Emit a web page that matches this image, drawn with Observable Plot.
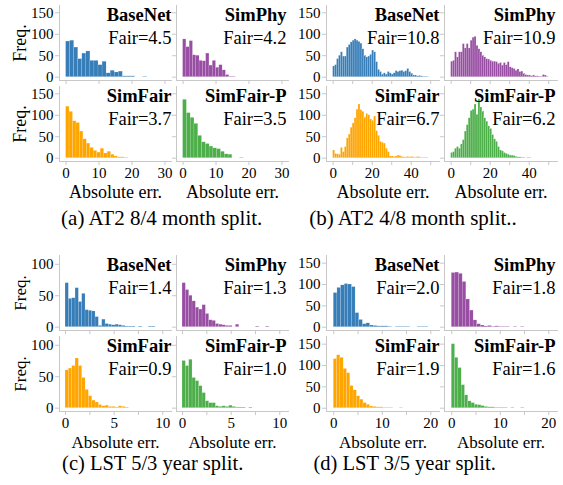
<!DOCTYPE html>
<html>
<head>
<meta charset="utf-8">
<script src="https://cdn.jsdelivr.net/npm/d3@7"></script>
<script src="https://cdn.jsdelivr.net/npm/@observablehq/plot@0.6"></script>
<style>
  html, body { margin: 0; padding: 0; background: #fff; }
  #root { position: relative; width: 563px; height: 485px; overflow: hidden;
          font-family: "Liberation Serif", "Times New Roman", serif; color: #000; }
  .pnl { position: absolute; }
  .lbl { position: absolute; white-space: nowrap; transform: translate(-50%, -50%); line-height: 1; }
  .rot { transform: translate(-50%, -50%) rotate(-90deg); }
</style>
</head>
<body>
<div id="root"></div>
<script>
// ---------------- data ----------------
const methods = ["BaseNet", "SimPhy", "SimFair", "SimFair-P"];
const colors = ["#377eb8", "#984ea3", "#ffa500", "#4daf4a"];
const captions = ["(a) AT2 8/4 month split.", "(b) AT2 4/8 month split..",
                  "(c) LST 5/3 year split.", "(d) LST 3/5 year split."];
const yLabelText = "Freq.";
const xLabelText = "Absolute err.";

// (a) AT2 8/4 month split
const fairA = [4.5, 4.2, 3.7, 3.5];
const binWidthA = [1.23, 1.0, 1.05, 1.15];
const aBaseNet = [83, 85, 69, 42, 55, 60, 38, 38, 28, 36, 9, 15, 11, 13, 2, 2, 2, 0, 0, 1];
const aSimPhy = [88, 70, 84, 51, 50, 38, 37, 55, 27, 38, 22, 28, 16, 5, 1, 1];
const aSimFair = [120, 108, 86, 82, 62, 44, 34, 24, 17, 13, 22, 11, 15, 8, 4, 2, 2, 1];
const aSimFairP = [136, 105, 94, 80, 52, 37, 33, 27, 23, 21, 15, 9, 8, 0, 0, 1];
const xTicksA = [0, 10, 20, 30], xLabelsA = [0, 10, 20, 30];
const yTicksA = [0, 50, 100, 150], yLabelsA = [0, 50, 100, 150];

// (b) AT2 4/8 month split
const fairB = [10.8, 10.9, 6.7, 6.2];
const binWidthB = [1.0, 1.0, 1.0, 1.0];
const bBaseNet = [25, 28, 42, 50, 58, 48, 48, 69, 75, 81, 85, 88, 85, 82, 78, 65, 50, 46, 48, 52, 62, 58, 35, 17, 12, 6, 9, 6, 12, 9, 6, 9, 14, 12, 14, 15, 12, 14, 19, 12, 8, 4, 4, 2, 3, 2, 1, 1, 1];
const bSimPhy = [36, 38, 58, 46, 58, 58, 77, 67, 77, 67, 85, 92, 94, 73, 65, 58, 50, 46, 42, 41, 38, 36, 36, 35, 31, 33, 27, 33, 28, 35, 23, 21, 19, 15, 18, 12, 13, 8, 5, 4, 4, 2, 4, 2, 2, 1, 1, 5, 4, 1];
const bSimFair = [18, 10, 9, 8, 24, 14, 26, 46, 55, 71, 81, 93, 113, 125, 112, 108, 95, 103, 100, 90, 87, 97, 63, 52, 38, 36, 34, 22, 14, 4, 4, 3, 4, 6, 5, 3, 2, 2, 3, 2, 3, 2, 1, 3, 2, 1, 1, 1, 1];
const bSimFairP = [12, 14, 22, 26, 22, 32, 42, 62, 77, 93, 110, 113, 125, 101, 137, 118, 109, 93, 85, 74, 68, 54, 44, 38, 26, 18, 16, 12, 10, 8, 6, 6, 5, 3, 2, 2, 1, 1, 0, 1, 1];
const xTicksB = [0, 10, 20, 30, 40, 50], xLabelsB = [0, 20, 40];
const yTicksB = [0, 50, 100, 150], yLabelsB = [0, 50, 100, 150];

// (c) LST 5/3 year split
const fairC = [1.4, 1.3, 0.9, 1.0];
const binWidthC = [0.343, 0.343, 0.343, 0.343];
const cBaseNet = [70, 45, 46, 62, 40, 53, 27, 26, 25, 16, 2, 12, 5, 4, 3, 4, 3, 2, 1, 1, 1, 0, 1, 0, 0, 1, 1];
const cSimPhy = [70, 59, 50, 41, 31, 28, 35, 21, 11, 10, 5, 4, 3, 2, 2, 0, 4, 0, 0, 0, 0, 0, 1, 0, 0, 1];
const cSimFair = [60, 63, 67, 79, 67, 48, 29, 19, 12, 9, 5, 3, 4, 2, 2, 1, 3, 2, 1];
const cSimFairP = [75, 67, 77, 48, 43, 35, 24, 11, 8, 8, 3, 2, 3, 2, 4, 2, 1, 1, 1, 0, 1];
const xTicksC = [0, 2.5, 5, 7.5, 10], xLabelsC = [0, 5, 10];
const yTicksC = [0, 50, 100], yLabelsC = [0, 50, 100];

// (d) LST 3/5 year split
const fairD = [2.0, 1.8, 1.9, 1.6];
const binWidthD = [0.75, 0.75, 0.68, 0.68];
const dBaseNet = [80, 92, 98, 101, 100, 94, 33, 17, 7, 9, 4, 3, 2, 2, 2, 1, 0, 1, 1, 1, 1, 0, 0, 1, 1, 1];
const dSimPhy = [127, 128, 125, 106, 65, 39, 16, 7, 4, 2, 3, 1, 2, 1, 1, 1, 0, 1, 0, 1];
const dSimFair = [115, 124, 118, 92, 82, 52, 42, 28, 20, 12, 8, 4, 3, 2, 2, 1, 1, 1, 0, 0, 1];
const dSimFairP = [150, 118, 94, 54, 30, 16, 12, 8, 7, 5, 3, 2, 2, 1, 1, 1, 1, 0, 1, 0, 0, 1];
const xTicksD = [0, 5, 10, 15, 20], xLabelsD = [0, 10, 20];
const yTicksD = [0, 50, 100, 150], yLabelsD = [0, 50, 100, 150];

// ---------------- layout ----------------
const groups = [
  {counts: [aBaseNet, aSimPhy, aSimFair, aSimFairP], widths: binWidthA, fair: fairA,
   xTicks: xTicksA, xLabels: xLabelsA, yTicks: yTicksA, yLabels: yLabelsA,
   cols: [59, 176], rows: [5, 86], pw: 113, ph: 75, xDomain: [-2, 32.3], yDomain: [-7.7, 167],
   cap: [161.7, 217.5], capFont: 21, xlabY: 192, freq: true, lblFont: 18},
  {counts: [bBaseNet, bSimPhy, bSimFair, bSimFairP], widths: binWidthB, fair: fairB,
   xTicks: xTicksB, xLabels: xLabelsB, yTicks: yTicksB, yLabels: yLabelsB,
   cols: [326, 444], rows: [5, 86], pw: 114, ph: 75, xDomain: [-3.4, 55], yDomain: [-7.7, 167],
   cap: [413, 217.5], capFont: 21, xlabY: 192, freq: false, lblFont: 18},
  {counts: [cBaseNet, cSimPhy, cSimFair, cSimFairP], widths: binWidthC, fair: fairC,
   xTicks: xTicksC, xLabels: xLabelsC, yTicks: yTicksC, yLabels: yLabelsC,
   cols: [59, 176], rows: [255, 336], pw: 113, ph: 75, xDomain: [-0.62, 11], yDomain: [-5.3, 114],
   cap: [152.7, 462.5], capFont: 20.5, xlabY: 442, freq: true, lblFont: 17},
  {counts: [dBaseNet, dSimPhy, dSimFair, dSimFairP], widths: binWidthD, fair: fairD,
   xTicks: xTicksD, xLabels: xLabelsD, yTicks: yTicksD, yLabels: yLabelsD,
   cols: [326, 444], rows: [255, 336], pw: 114, ph: 75, xDomain: [-1.5, 22], yDomain: [-7.7, 168],
   cap: [404.7, 462.5], capFont: 20.5, xlabY: 442, freq: false, lblFont: 17}
];

const root = document.getElementById("root");
const ML = 34, MR = 6, MT = 2, MB = 22;
const spine = "#c8c8c8";
const FONT = "Liberation Serif";

function addLabel(text, x, y, size, opts = {}) {
  const d = document.createElement("div");
  d.className = "lbl" + (opts.rot ? " rot" : "");
  d.textContent = text;
  d.style.left = x + "px";
  d.style.top = y + "px";
  d.style.fontSize = size + "px";
  if (opts.bold) d.style.fontWeight = "bold";
  root.appendChild(d);
}

groups.forEach((g) => {
  g.counts.forEach((counts, i) => {
    const row = i >> 1, col = i & 1;
    const left = g.cols[col], top = g.rows[row];
    const bins = counts.map((c, k) => ({x1: k * g.widths[i], x2: (k + 1) * g.widths[i], count: c}));
    const showX = row === 1, showY = col === 0;
    const xl = new Set(g.xLabels), yl = new Set(g.yLabels);
    const chart = Plot.plot({
      width: g.pw + ML + MR, height: g.ph + MT + MB,
      marginLeft: ML, marginRight: MR, marginTop: MT, marginBottom: MB,
      x: {domain: g.xDomain},
      y: {domain: g.yDomain},
      style: {fontFamily: FONT, fontSize: "15px", background: "transparent", overflow: "visible", color: "#000"},
      marks: [
        Plot.rectY(bins, {x1: "x1", x2: "x2", y: "count", fill: colors[i],
                          stroke: "white", strokeWidth: 0.3, strokeOpacity: 0.45}),
        Plot.ruleX([g.xDomain[0]], {stroke: spine, strokeWidth: 1}),
        Plot.ruleY([g.yDomain[0]], {stroke: spine, strokeWidth: 1}),
        Plot.axisX({ticks: g.xTicks, tickSize: 4, tickPadding: 1.5, stroke: spine, fill: "#000",
                    label: null, fontSize: 15, fontFamily: FONT,
                    tickFormat: (d) => (showX && xl.has(d) ? String(d) : "")}),
        Plot.axisY({ticks: g.yTicks, tickSize: 4, tickPadding: 2, stroke: spine, fill: "#000",
                    label: null, fontSize: 15, fontFamily: FONT,
                    tickFormat: (d) => (showY && yl.has(d) ? String(d) : "")}),
        Plot.text([methods[i]], {frameAnchor: "top-right", textAnchor: "end", lineAnchor: "middle",
                                 dx: col === 0 ? -1 : -3, dy: 10, fontWeight: "bold", fontSize: 18.5,
                                 fontFamily: FONT, fill: "#000"}),
        Plot.text(["Fair=" + g.fair[i].toFixed(1)], {frameAnchor: "top-right", textAnchor: "end", lineAnchor: "middle",
                                 dx: col === 0 ? -1 : -3, dy: 32.5, fontSize: 18.5,
                                 fontFamily: FONT, fill: "#000"})
      ]
    });
    chart.classList.add("pnl");
    chart.style.left = (left - ML) + "px";
    chart.style.top = (top - MT) + "px";
    root.appendChild(chart);
    if (showX) addLabel(xLabelText, left + g.pw / 2, g.xlabY, g.lblFont);
    if (showY && g.freq) addLabel(yLabelText, 20, top + g.ph / 2, g.lblFont, {rot: true});
  });
});

groups.forEach((g, gi) => addLabel(captions[gi], g.cap[0], g.cap[1], g.capFont));
</script>
</body>
</html>
